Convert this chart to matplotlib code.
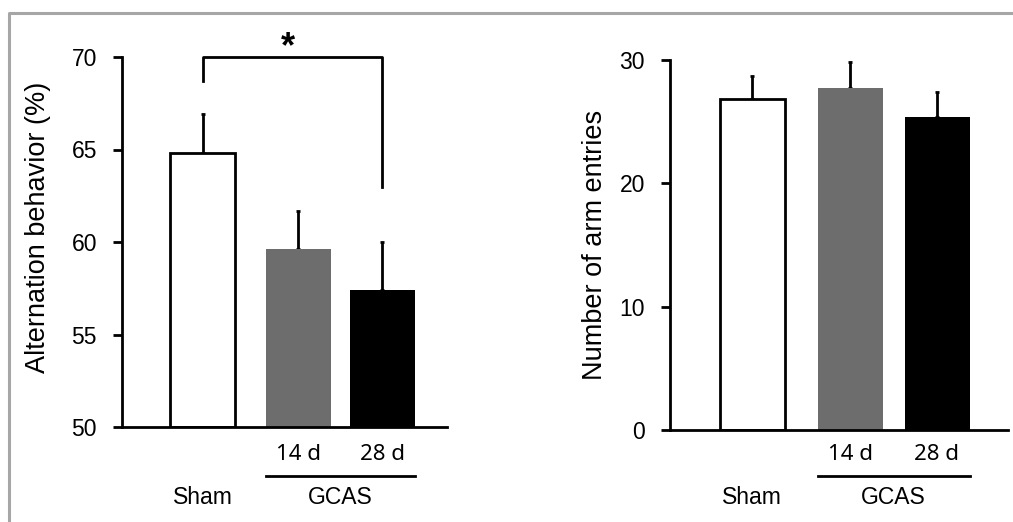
import matplotlib.pyplot as plt
import matplotlib.transforms as mtransforms
from matplotlib.lines import Line2D

plt.rcParams['font.family'] = ['Liberation Sans', 'DejaVu Sans']

# data
groups = ['Sham', '14 d', '28 d']
alternation = [64.8, 59.6, 57.4]
alternation_err = [2.1, 2.1, 2.6]
arm_entries = [26.8, 27.7, 25.4]
arm_entries_err = [1.9, 2.1, 2.0]
bar_colors = ['white', '#6d6d6d', 'black']
sig_bracket = (68.7, 70.0, 63.0)   # left leg end, top, right leg end
sig_label = '*'

W, H = 1013, 522
fig = plt.figure(figsize=(W / 100, H / 100), dpi=100)


def px_axes(left, right, top, bottom):
    return fig.add_axes([left / W, 1 - bottom / H, (right - left) / W, (bottom - top) / H])


def style_axes(ax, yticks):
    for s in ['top', 'right']:
        ax.spines[s].set_visible(False)
    for s in ['left', 'bottom']:
        ax.spines[s].set_linewidth(2.0)
    ax.set_yticks(yticks)
    ax.tick_params(axis='y', length=6.5, width=2.0, pad=11.5, labelsize=16.5)
    ax.set_xticks([])


def group_labels(ax, xs, y_sub, y_line, y_grp):
    # sub-group labels, the GCAS underline and the group names below the axis
    tr = mtransforms.blended_transform_factory(ax.transData, fig.transFigure)
    for x, g in zip(xs[1:], groups[1:]):
        ax.text(x, 1 - y_sub / H, g, transform=tr, ha='center', va='center',
                fontsize=16, family=['Noto Sans', 'DejaVu Sans'])
    ax.add_line(Line2D([xs[1] - 0.325, xs[2] + 0.325], [1 - y_line / H] * 2,
                       transform=tr, color='black', lw=2.0, clip_on=False))
    ax.text(xs[0], 1 - y_grp / H, groups[0], transform=tr, ha='center',
            va='center', fontsize=16.5)
    ax.text((xs[1] + xs[2]) / 2, 1 - y_grp / H, 'GCAS', transform=tr,
            ha='center', va='center', fontsize=16.5)


# left panel: alternation behavior
ax1 = px_axes(122, 447, 57, 427)
x1 = [0, 0.955, 1.795]
ax1.bar(x1, [v - 50 for v in alternation], width=0.65, bottom=50,
        color=bar_colors, edgecolor=['black', 'none', 'none'],
        linewidth=2.0, zorder=2)
ax1.errorbar(x1, alternation, yerr=[[0, 0, 0], alternation_err], fmt='none',
             ecolor='black', elinewidth=2.0, capsize=1.5, capthick=2, zorder=1)
ax1.set_ylim(50, 70)
ax1.set_xlim(-0.805, 2.445)
style_axes(ax1, [50, 55, 60, 65, 70])
ax1.plot([x1[0], x1[0], x1[2], x1[2]],
         [sig_bracket[0], sig_bracket[1], sig_bracket[1], sig_bracket[2]],
         color='black', lw=2.0, clip_on=False)
ax1.annotate(sig_label, xy=((x1[0] + x1[2]) / 2, sig_bracket[1]),
             xytext=(-3, 0), textcoords='offset points', ha='center',
             va='baseline', fontsize=26, fontweight='bold', annotation_clip=False)
group_labels(ax1, x1, 455, 476, 498)
fig.text(38 / W, 1 - 227 / H, 'Alternation behavior (%)', rotation=90,
         ha='center', va='center', fontsize=19.5)

# right panel: number of arm entries
ax2 = px_axes(670, 1008, 60, 430)
x2 = [0, 0.98, 1.85]
ax2.bar(x2, arm_entries, width=0.65, color=bar_colors,
        edgecolor=['black', 'none', 'none'], linewidth=2.0, zorder=2)
ax2.errorbar(x2, arm_entries, yerr=[[0, 0, 0], arm_entries_err], fmt='none',
             ecolor='black', elinewidth=2.0, capsize=1.5, capthick=2, zorder=1)
ax2.set_ylim(0, 30)
ax2.set_xlim(-0.82, 2.56)
style_axes(ax2, [0, 10, 20, 30])
group_labels(ax2, x2, 455, 476, 497)
fig.text(595 / W, 1 - 245 / H, 'Number of arm entries', rotation=90,
         ha='center', va='center', fontsize=19.5)

# gray frame on top and left
fig.add_artist(Line2D([9 / W, 9 / W, 1], [0, 1 - 13 / H, 1 - 13 / H],
                      transform=fig.transFigure, color='#a6a6a6', lw=2.2))

fig.savefig('out.png', dpi=100)
